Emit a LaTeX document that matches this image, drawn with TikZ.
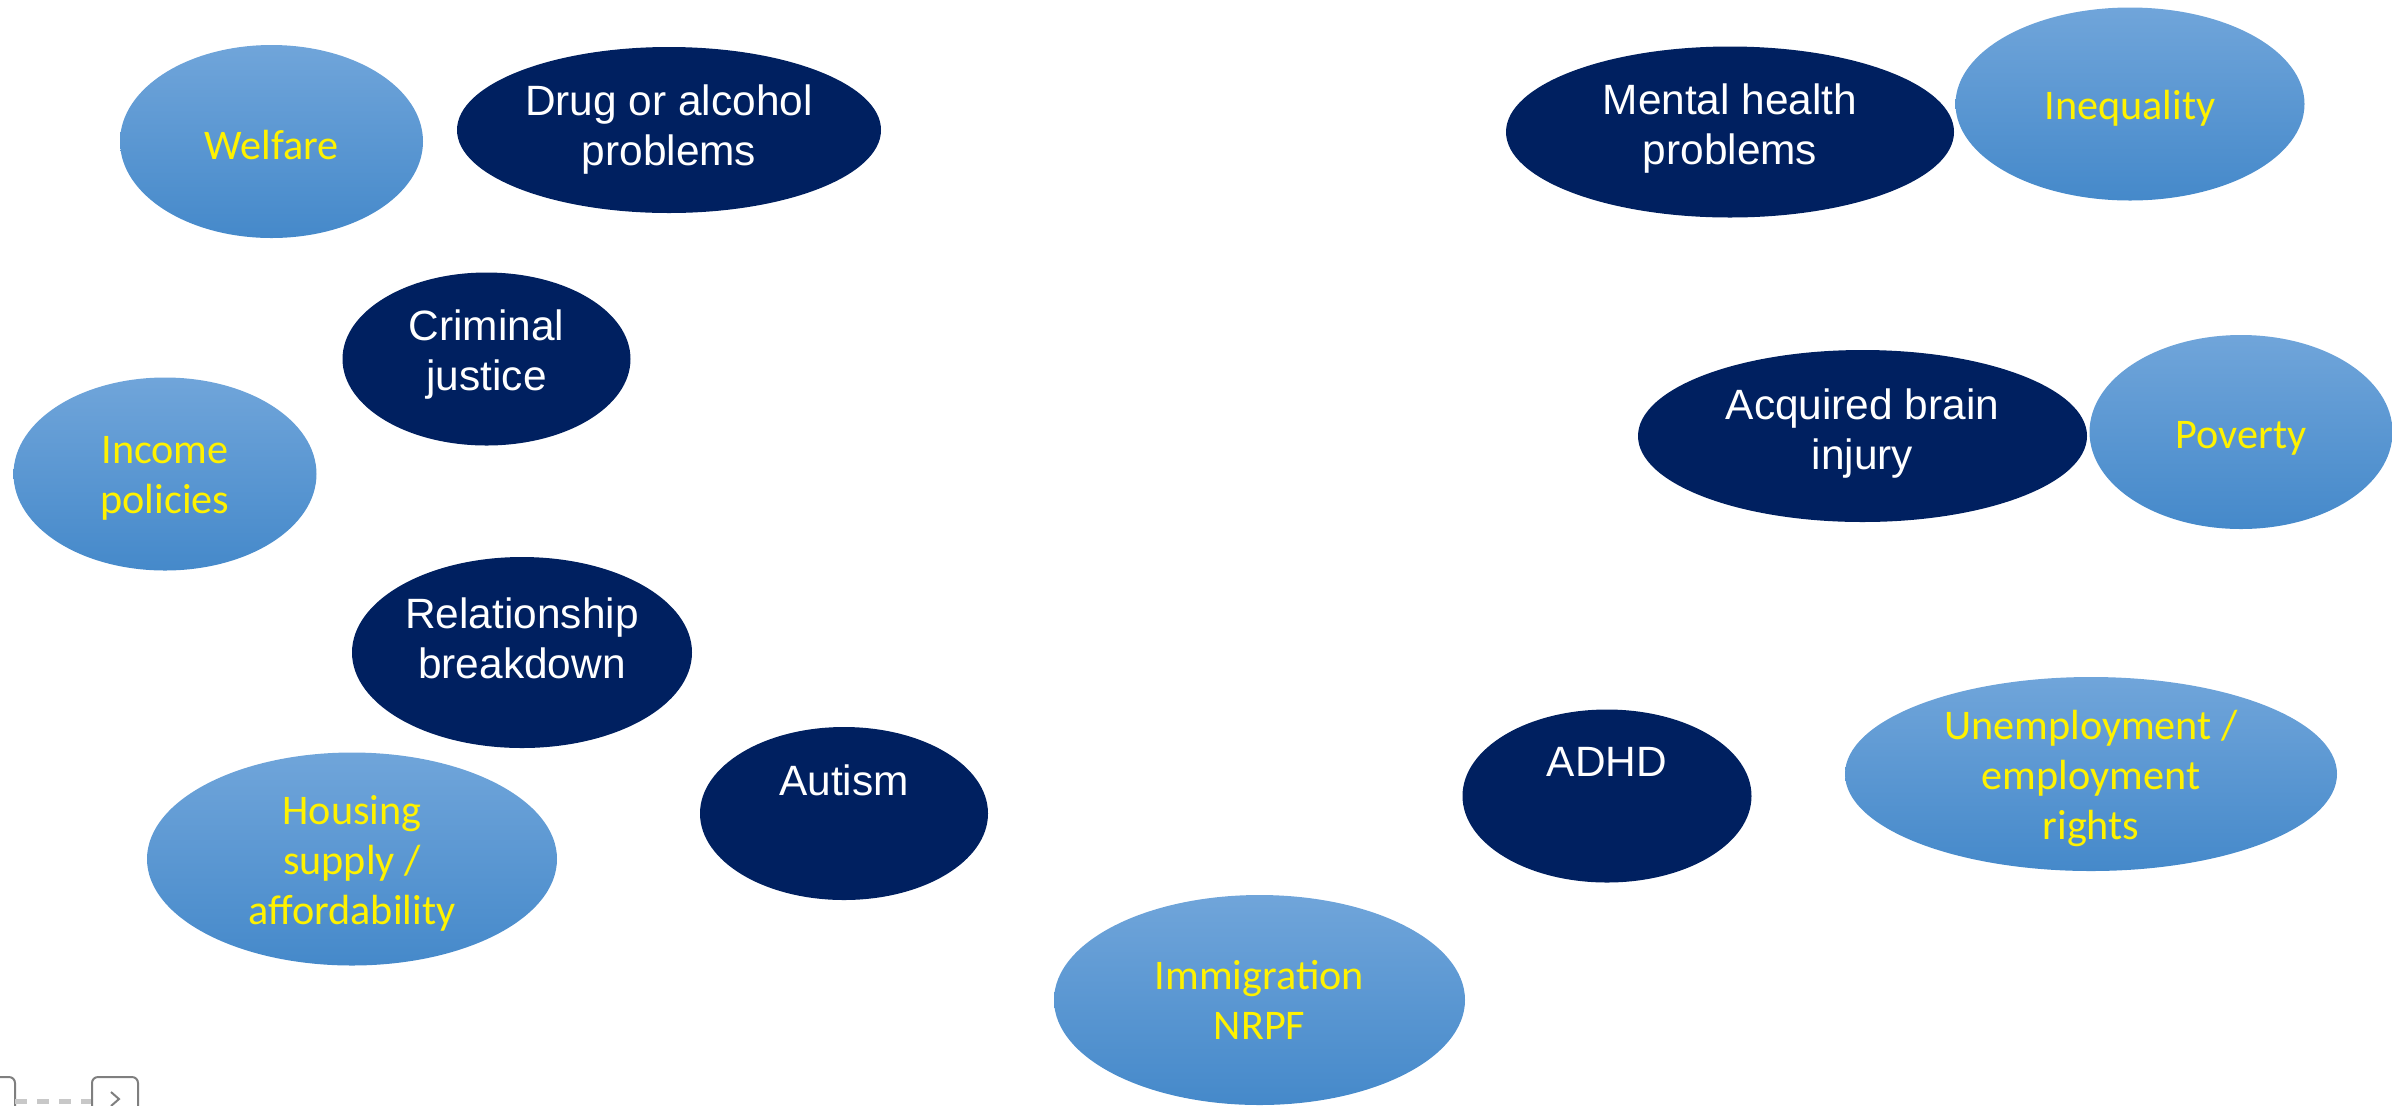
\documentclass[tikz,border=0pt]{standalone}
\usepackage{fontspec}
\setmainfont{Carlito}
\newfontfamily\arialfont{Liberation Sans}
\usetikzlibrary{shapes.geometric}
\definecolor{navyblue}{HTML}{002060}
\definecolor{lbtop}{HTML}{70A5DA}
\definecolor{lbmid}{HTML}{5A9BDB}
\definecolor{lbbot}{HTML}{4589CA}
\definecolor{uigrey}{HTML}{7F7F7F}
\definecolor{uidash}{HTML}{C8C8C8}

\begin{document}
\begin{tikzpicture}
    [
        x=0.5pt, y=-0.5pt,
        cause/.style = {shape=ellipse, inner sep=0pt,
                        top color=lbtop, middle color=lbmid, bottom color=lbbot},
        factor/.style = {shape=ellipse, inner sep=0pt, fill=navyblue},
        causetext/.style = {inner sep=0pt, align=center, text=yellow,
                            font=\fontsize{21.1pt}{25pt}\selectfont},
        factortext/.style = {inner sep=0pt, align=center, text=white,
                             font=\arialfont\fontsize{21.2pt}{25pt}\selectfont},
    ]

    \useasboundingbox (0,0) rectangle (2399,1105);

    % structural causes (light blue)
    \node[cause, minimum width=151.5pt, minimum height=96.5pt] (welfare) at (271.5,141.5) {};
    \node[cause, minimum width=174.5pt, minimum height=96.5pt] (inequality) at (2130,104) {};
    \node[cause, minimum width=151.5pt, minimum height=96.5pt] (income) at (165,474) {};
    \node[cause, minimum width=151.5pt, minimum height=97pt] (poverty) at (2241,432) {};
    \node[cause, minimum width=205pt, minimum height=106.5pt] (housing) at (352,859) {};
    \node[cause, minimum width=246pt, minimum height=97pt] (employment) at (2091,774) {};
    \node[cause, minimum width=205.5pt, minimum height=105pt] (immigration) at (1259.5,1000) {};

    \node[causetext] (welfaretext) at ([yshift=-1.5pt]welfare.center) {Welfare};
    \node[causetext] (inequalitytext) at ([yshift=-2.3pt]inequality.center) {Inequality};
    \node[causetext] (incometext) at ([yshift=-2.3pt]income.center) {Income\\policies};
    \node[causetext] (povertytext) at ([yshift=-3pt]poverty.center) {Poverty};
    \node[causetext] (housingtext) at ([yshift=-2.3pt]housing.center) {Housing\\supply /\\affordability};
    \node[causetext] (employmenttext) at ([yshift=-2.3pt]employment.center) {Unemployment /\\employment\\rights};
    \node[causetext] (immigrationtext) at (immigration.center) {Immigration\\NRPF};

    % personal factors (dark blue)
    \node[factor, minimum width=212pt, minimum height=83pt] (drug) at (669,130) {};
    \node[factor, minimum width=224pt, minimum height=85.5pt] (mental) at (1730,132) {};
    \node[factor, minimum width=144pt, minimum height=86.5pt] (criminal) at (486.5,359) {};
    \node[factor, minimum width=224.5pt, minimum height=86pt] (brain) at (1862.5,436) {};
    \node[factor, minimum width=170pt, minimum height=95.5pt] (relation) at (522,652.5) {};
    \node[factor, minimum width=144pt, minimum height=86.5pt] (autism) at (844,813.5) {};
    \node[factor, minimum width=144.5pt, minimum height=86.5pt] (adhd) at (1607,796) {};

    \node[factortext] (drugtext) at (drug.center) {Drug or alcohol\\problems};
    \node[factortext] (mentaltext) at ([yshift=1.5pt]mental.center) {Mental health\\problems};
    \node[factortext] (criminaltext) at ([yshift=2.3pt]criminal.center) {Criminal\\justice};
    \node[factortext] (braintext) at ([yshift=1.1pt]brain.center) {Acquired brain\\injury};
    \node[factortext] (relationtext) at ([yshift=6.9pt]relation.center) {Relationship\\breakdown};
    \node[factortext] (autismtext) at ([yshift=16.5pt]autism.center) {Autism};
    \node[factortext] (adhdtext) at ([yshift=17pt]adhd.center) {ADHD};

    % slide controls, bottom left
    \draw[uigrey, line width=1pt, rounded corners=3pt] (-20,1077) -- (15,1077) -- (15,1115);
    \draw[uidash, line width=2.5pt, dash pattern=on 6pt off 5pt] (15,1101) -- (92,1101);
    \draw[uigrey, line width=1pt, rounded corners=3pt] (92,1115) -- (92,1077) -- (138,1077) -- (138,1115);
    \draw[uigrey, line width=1pt] (111,1092) -- (119,1099) -- (111,1106);

\end{tikzpicture}
\end{document}
